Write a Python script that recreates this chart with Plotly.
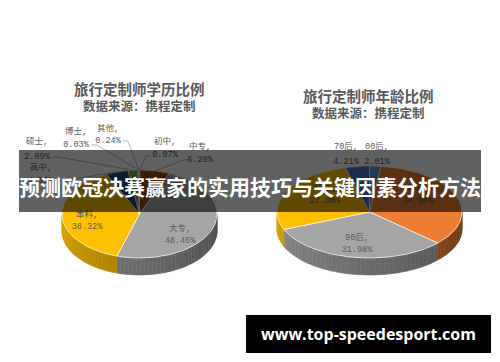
import numpy as np
import plotly.graph_objects as go

# ---------------- data ----------------
edu_labels = ["初中", "中专", "大专", "本科", "高中", "硕士", "博士", "其他"]
edu_values = [0.07, 6.20, 48.46, 38.32, 4.59, 2.09, 0.03, 0.24]
edu_colors = ["#4472C4", "#9E480E", "#A5A5A5", "#FFC000", "#264478", "#70AD47", "#636363", "#997300"]

age_labels = ["00后", "80后", "90后", "85后", "70后"]
age_values = [2.01, 34.80, 31.98, 27.00, 4.21]
age_colors = ["#5B9BD5", "#ED7D31", "#A5A5A5", "#FFC000", "#4472C4"]

edu_title = "旅行定制师学历比例"
age_title = "旅行定制师年龄比例"
source_text = "数据来源：携程定制"
banner_text = "预测欧冠决赛赢家的实用技巧与关键因素分析方法"
watermark_text = "www.top-speedesport.com"

# ---------------- layout / geometry ----------------
W, H = 500, 362
LEFT = dict(cx=139.5, cy=214, rx=77.5, ry=44, depth=17)
RIGHT = dict(cx=369.5, cy=212, rx=92.5, ry=46, depth=17)

# label centre positions (first line); second line is offset below
edu_label_pos = {"初中": (165, 142, 13), "中专": (200, 147, 13), "大专": (180, 229, 12),
                 "本科": (87, 215, 12), "高中": (41, 168, 13), "硕士": (37, 142, 15),
                 "博士": (76, 132, 13), "其他": (108, 129, 12)}
edu_leaders = {"初中": [(151, 156), (146, 156)], "中专": [(189, 160), (184, 160)],
               "高中": [(55, 181), (60, 181)], "硕士": [(52, 157), (58, 157)],
               "博士": [(91, 145), (97, 145)], "其他": [(123, 141), (128, 141)]}
age_label_pos = {"00后": (377, 147, 15), "80后": (418, 188, 13), "90后": (357, 238, 12),
                 "85后": (325, 188, 13), "70后": (346, 147, 15)}

LABEL_FONT = dict(family="Liberation Mono, Noto Sans CJK SC", size=8.5, color="#595959")
TITLE_COLOR = "#595959"


def hex_rgb(h):
    h = h.lstrip("#")
    return tuple(int(h[i:i + 2], 16) for i in (0, 2, 4))


def shade(h, f):
    r, g, b = hex_rgb(h)
    return "rgb(%d,%d,%d)" % (min(255, r * f), min(255, g * f), min(255, b * f))


def pt(g, a):
    t = np.radians(a)
    return g["cx"] + g["rx"] * np.sin(t), g["cy"] - g["ry"] * np.cos(t)


def slice_angles(values):
    tot = float(sum(values))
    cum = np.concatenate([[0], np.cumsum(values)]) / tot * 360.0
    return [(cum[i], cum[i + 1]) for i in range(len(values))]


fig = go.Figure()


def draw_pie(g, values, colors):
    angs = slice_angles(values)
    # side walls (front half only)
    for (a0, a1), c in zip(angs, colors):
        s0, s1 = max(a0, 90), min(a1, 270)
        if s1 <= s0:
            continue
        n = max(1, int(np.ceil((s1 - s0) / 3.0)))
        edges = np.linspace(s0, s1, n + 1)
        for i in range(n):
            t = np.linspace(edges[i], edges[i + 1], 4)
            xs, ys = pt(g, t)
            px = list(xs) + list(xs[::-1]) + [xs[0]]
            py = list(ys) + list((ys + g["depth"])[::-1]) + [ys[0]]
            mid = 0.5 * (edges[i] + edges[i + 1])
            f = 0.45 + 0.4 * (mid - 90) / 180.0
            col = shade(c, f)
            fig.add_trace(go.Scatter(x=px, y=py, mode="lines", fill="toself",
                                     fillcolor=col, line=dict(color=col, width=0.6),
                                     hoverinfo="skip", showlegend=False))
    # top faces
    for (a0, a1), c in zip(angs, colors):
        n = max(2, int(np.ceil((a1 - a0) / 1.5)) + 1)
        xs, ys = pt(g, np.linspace(a0, a1, n))
        px = [g["cx"]] + list(xs) + [g["cx"]]
        py = [g["cy"]] + list(ys) + [g["cy"]]
        fig.add_trace(go.Scatter(x=px, y=py, mode="lines", fill="toself",
                                 fillcolor=c, line=dict(color="rgba(255,255,255,0.85)", width=0.8),
                                 hoverinfo="skip", showlegend=False))
    return angs


edu_angs = draw_pie(LEFT, edu_values, edu_colors)
age_angs = draw_pie(RIGHT, age_values, age_colors)

# leader lines for the left pie
for lab, (a0, a1) in zip(edu_labels, edu_angs):
    if lab not in edu_leaders:
        continue
    ex, ey = pt(LEFT, 0.5 * (a0 + a1))
    (sx, sy), (bx, by) = edu_leaders[lab]
    fig.add_trace(go.Scatter(x=[sx, bx, float(ex)], y=[sy, by, float(ey)], mode="lines",
                             line=dict(color="#A6A6A6", width=0.8),
                             hoverinfo="skip", showlegend=False))


def add_labels(labels, values, pos):
    xs, ys, ts = [], [], []
    for lab, v in zip(labels, values):
        x, y, gap = pos[lab]
        xs += [x, x]
        ys += [y, y + gap]
        ts += [lab + ",", "%.2f%%" % v]
    fig.add_trace(go.Scatter(x=xs, y=ys, text=ts, mode="text", textposition="middle center",
                             textfont=LABEL_FONT, hoverinfo="skip", showlegend=False))


add_labels(edu_labels, edu_values, edu_label_pos)
add_labels(age_labels, age_values, age_label_pos)

annotations = []
for title, cx, ty in [(edu_title, LEFT["cx"], 88), (age_title, RIGHT["cx"] - 1, 95)]:
    annotations.append(dict(x=cx, y=ty, xref="x", yref="y", text="<b>%s</b>" % title,
                            showarrow=False, font=dict(family="Noto Sans CJK SC", size=14.5, color=TITLE_COLOR)))
    annotations.append(dict(x=cx, y=ty + 17.5, xref="x", yref="y", text="<b>%s</b>" % source_text,
                            showarrow=False, font=dict(family="Noto Sans CJK SC", size=12.5, color=TITLE_COLOR)))

annotations.append(dict(x=250, y=186, xref="x", yref="y", text="<b>%s</b>" % banner_text,
                        showarrow=False, font=dict(family="Noto Sans CJK SC", size=21, color="white")))
annotations.append(dict(x=368.5, y=334, xref="x", yref="y", text="<b>%s</b>" % watermark_text,
                        showarrow=False, font=dict(family="Open Sans", size=16, color="white")))

shapes = [
    dict(type="rect", xref="x", yref="y", x0=19, x1=481, y0=150, y1=212,
         fillcolor="rgba(0,0,0,0.62)", line=dict(width=0), layer="above"),
    dict(type="rect", xref="x", yref="y", x0=246, x1=491, y0=315, y1=353,
         fillcolor="black", line=dict(width=0), layer="above"),
]

fig.update_layout(
    width=W, height=H, margin=dict(l=0, r=0, t=0, b=0),
    paper_bgcolor="white", plot_bgcolor="white",
    xaxis=dict(range=[0, W], visible=False, fixedrange=True),
    yaxis=dict(range=[H, 0], visible=False, fixedrange=True),
    annotations=annotations, shapes=shapes, showlegend=False,
)

fig.write_html("out.html")
